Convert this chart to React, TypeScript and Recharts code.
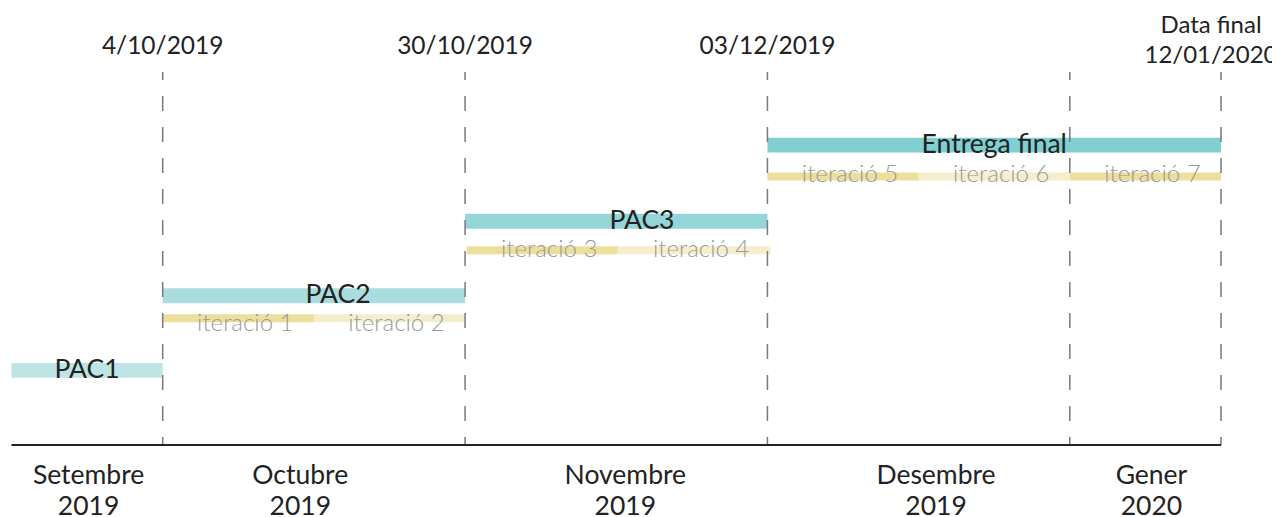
import React from "react";
import {
  ComposedChart,
  XAxis,
  YAxis,
  ReferenceArea,
  ReferenceLine,
  Scatter,
} from "recharts";

// ---- data ----
const pacNames = ["PAC1", "PAC2", "PAC3", "Entrega final"];
const pacStart = [0, 1, 3, 5];
const pacEnd = [1, 3, 5, 8];
const pacRow = [5, 10, 15, 20.1];
const pacLabelX = [0.5, 2.16, 4.17, 6.5];
const pacColors = ["#bee4e6", "#abdce0", "#94d5d8", "#80cfd3"];

const iterNames = [
  "iteració 1",
  "iteració 2",
  "iteració 3",
  "iteració 4",
  "iteració 5",
  "iteració 6",
  "iteració 7",
];
const iterStart = [1, 2, 3.01, 4.01, 5, 6, 7];
const iterEnd = [2, 3, 4.01, 5.02, 6, 7, 8];
const iterRow = [8.5, 8.5, 13.05, 13.05, 18, 18, 18];
const iterLabelRow = [7.64, 7.64, 12.61, 12.61, 17.6, 17.6, 17.6];
const iterColors = [
  "#ecdf9c",
  "#f4eecc",
  "#ecdf9c",
  "#f4eecc",
  "#ecdf9c",
  "#f4eecc",
  "#ecdf9c",
];

const milestoneX = [1, 3, 5, 7, 8];
const topTicks = [1, 3, 5, 8];
const topTickLabels = [["4/10/2019"], ["30/10/2019"], ["03/12/2019"], ["Data final", "12/01/2020"]];
const monthTicks = [0.51, 1.91, 4.06, 6.115, 7.54];
const monthLabels = [
  ["Setembre", "2019"],
  ["Octubre", "2019"],
  ["Novembre", "2019"],
  ["Desembre", "2019"],
  ["Gener", "2020"],
];

const FONT = "Lato, 'Open Sans', sans-serif";
const PAC_HALF = 0.5;
const ITER_HALF = 0.27;

const pacLabelData = pacNames.map((n, i) => ({
  x: pacLabelX[i],
  y: pacRow[i] - PAC_HALF,
  text: n,
}));
const iterLabelData = iterNames.map((n, i) => ({
  x: (iterStart[i] + iterEnd[i]) / 2,
  y: iterLabelRow[i],
  text: n,
}));

const MonthTick = (props: any) => {
  const { x, y, payload } = props;
  const idx = monthTicks.indexOf(payload.value);
  const lines = monthLabels[idx] || [];
  return (
    <g>
      {lines.map((l, i) => (
        <text
          key={i}
          x={x}
          y={y + 31 + i * 30.5}
          textAnchor="middle"
          fill="#222"
          fontSize={26.5}
          fontFamily={FONT}
        >
          {l}
        </text>
      ))}
    </g>
  );
};

const TopTick = (props: any) => {
  const { x, y, payload } = props;
  const idx = topTicks.indexOf(payload.value);
  const lines = topTickLabels[idx] || [];
  if (lines.length === 1) {
    return (
      <text x={x} y={y - 10} textAnchor="middle" fill="#222" fontSize={24.5} fontFamily={FONT}>
        {lines[0]}
      </text>
    );
  }
  return (
    <g>
      {lines.map((l, i) => (
        <text
          key={i}
          x={x - 10}
          y={y - 31 + i * 30}
          textAnchor="middle"
          fill="#222"
          fontSize={24}
          fontFamily={FONT}
        >
          {l}
        </text>
      ))}
    </g>
  );
};

const PacLabel = (props: any) => {
  const { cx, cy, payload } = props;
  return (
    <text x={cx} y={cy} textAnchor="middle" fill="#222" fontSize={26.5} fontFamily={FONT}>
      {payload.text}
    </text>
  );
};

const IterLabel = (props: any) => {
  const { cx, cy, payload } = props;
  return (
    <text
      x={cx + 7}
      y={cy}
      textAnchor="middle"
      fill="#9a9a9a"
      fontSize={24}
      fontWeight={300}
      fontFamily={FONT}
    >
      {payload.text}
    </text>
  );
};

export default function App() {
  return (
    <div style={{ fontFamily: FONT }}>
      <ComposedChart
        width={1272}
        height={509}
        margin={{ top: 0, right: 59, bottom: 0, left: 3.5 }}
      >
        <XAxis
          xAxisId="bottom"
          dataKey="x"
          type="number"
          domain={[0, 8]}
          ticks={monthTicks}
          tick={<MonthTick />}
          tickLine={false}
          axisLine={{ stroke: "#222", strokeWidth: 2 }}
          height={72}
          allowDataOverflow
          interval={0}
        />
        <XAxis
          xAxisId="top"
          orientation="top"
          dataKey="x"
          type="number"
          domain={[0, 8]}
          ticks={topTicks}
          tick={<TopTick />}
          tickLine={false}
          axisLine={false}
          height={64}
          allowDataOverflow
          interval={0}
        />
        <YAxis
          yAxisId="y"
          dataKey="y"
          type="number"
          domain={[0, 25]}
          width={0}
          tick={false}
          tickLine={false}
          axisLine={{ stroke: "#222", strokeWidth: 2 }}
          allowDataOverflow
        />
        {milestoneX.map((mx) => (
          <ReferenceLine
            key={"l" + mx}
            x={mx}
            xAxisId="bottom"
            yAxisId="y"
            stroke="#7a7a7a"
            strokeWidth={1.5}
            strokeDasharray="15 16"
            strokeDashoffset={7}
          />
        ))}
        {pacNames.map((n, i) => (
          <ReferenceArea
            key={n}
            xAxisId="bottom"
            yAxisId="y"
            x1={pacStart[i]}
            x2={pacEnd[i]}
            y1={pacRow[i] - PAC_HALF}
            y2={pacRow[i] + PAC_HALF}
            fill={pacColors[i]}
            fillOpacity={1}
            stroke="none"
          />
        ))}
        {iterNames.map((n, i) => (
          <ReferenceArea
            key={n}
            xAxisId="bottom"
            yAxisId="y"
            x1={iterStart[i]}
            x2={iterEnd[i]}
            y1={iterRow[i] - ITER_HALF}
            y2={iterRow[i] + ITER_HALF}
            fill={iterColors[i]}
            fillOpacity={1}
            stroke="none"
          />
        ))}
        <Scatter
          xAxisId="bottom"
          yAxisId="y"
          data={iterLabelData}
          dataKey="y"
          shape={<IterLabel />}
          isAnimationActive={false}
        />
        <Scatter
          xAxisId="bottom"
          yAxisId="y"
          data={pacLabelData}
          dataKey="y"
          shape={<PacLabel />}
          isAnimationActive={false}
        />
      </ComposedChart>
    </div>
  );
}
